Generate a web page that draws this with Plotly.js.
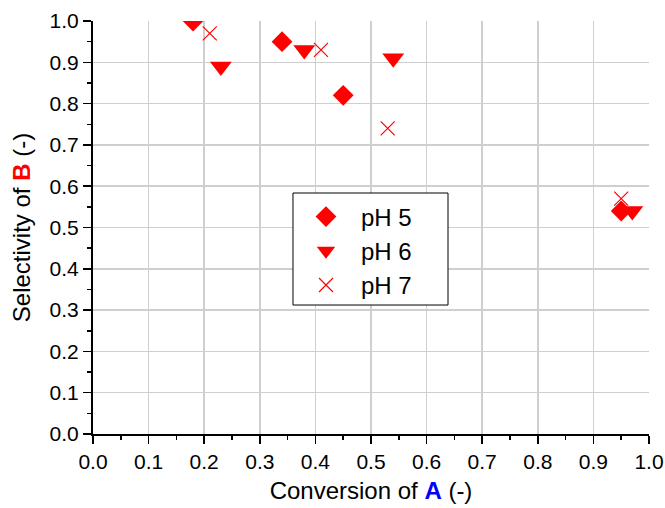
<!DOCTYPE html>
<html>
<head>
<meta charset="utf-8">
<script src="https://cdn.plot.ly/plotly-3.0.1.min.js"></script>
<style>
  html, body { margin: 0; padding: 0; background: #fff; }
  #chart { width: 665px; height: 508px; }
</style>
</head>
<body>
<div id="chart"></div>
<script>
// Selectivity of B versus conversion of A at three pH values
const seriesNames = ['pH 5', 'pH 6', 'pH 7'];

const ph5Conversion = [0.18, 0.34, 0.45, 0.95];
const ph5Selectivity = [1.00, 0.95, 0.82, 0.54];

const ph6Conversion = [0.23, 0.38, 0.54, 0.97];
const ph6Selectivity = [0.89, 0.93, 0.91, 0.54];

const ph7Conversion = [0.21, 0.41, 0.53, 0.95];
const ph7Selectivity = [0.97, 0.93, 0.74, 0.57];

const tickValues = [0, 0.1, 0.2, 0.3, 0.4, 0.5, 0.6, 0.7, 0.8, 0.9, 1.0];
const tickLabels = ['0.0', '0.1', '0.2', '0.3', '0.4', '0.5', '0.6', '0.7', '0.8', '0.9', '1.0'];

const font = 'Liberation Sans, Arial, sans-serif';

const traces = [
  {
    x: ph5Conversion, y: ph5Selectivity, name: seriesNames[0],
    mode: 'markers', type: 'scatter',
    marker: { symbol: 'diamond', size: 16, color: '#ff0000' }
  },
  {
    x: ph6Conversion, y: ph6Selectivity, name: seriesNames[1],
    mode: 'markers', type: 'scatter',
    marker: { symbol: 'triangle-down', size: 19, color: '#ff0000' }
  },
  {
    x: ph7Conversion, y: ph7Selectivity, name: seriesNames[2],
    mode: 'markers', type: 'scatter',
    marker: { symbol: 'x-thin', size: 14, color: '#ff0000',
              line: { color: '#ff0000', width: 1.2 } }
  }
];

const axisCommon = {
  range: [0, 1.0],
  tickmode: 'array',
  tickvals: tickValues,
  ticktext: tickLabels,
  ticks: 'outside',
  ticklen: 8,
  tickwidth: 1.5,
  tickcolor: '#000',
  showline: true,
  linecolor: '#000',
  linewidth: 2,
  showgrid: true,
  gridcolor: '#cfcfcf',
  gridwidth: 1.5,
  zeroline: false,
  tickfont: { family: font, size: 21, color: '#000' },
  minor: { dtick: 0.05, tick0: 0, ticks: 'outside', ticklen: 4, tickwidth: 1.5, tickcolor: '#000', showgrid: false }
};

const layout = {
  width: 665,
  height: 508,
  margin: { l: 93, r: 16, t: 21, b: 74 },
  paper_bgcolor: '#fff',
  plot_bgcolor: '#fff',
  showlegend: true,
  xaxis: Object.assign({}, axisCommon, {
    title: { text: 'Conversion of <b><span style="color:#0000ff">A</span></b> (-)',
             font: { family: font, size: 24, color: '#000' }, standoff: 10 }
  }),
  yaxis: Object.assign({}, axisCommon, {
    title: { text: 'Selectivity of <b><span style="color:#ff0000">B</span></b> (-)',
             font: { family: font, size: 24, color: '#000' }, standoff: 12 }
  }),
  // framed box behind the legend entries
  shapes: [{
    type: 'rect', xref: 'paper', yref: 'paper', layer: 'above',
    x0: 0.3597, x1: 0.6385, y0: 0.3123, y1: 0.5835,
    fillcolor: '#ffffff', line: { color: '#000', width: 1 }
  }],
  legend: {
    x: 0.3561, y: 0.58, xanchor: 'left', yanchor: 'top',
    bgcolor: 'rgba(0,0,0,0)',
    borderwidth: 0,
    font: { family: font, size: 24, color: '#000' },
    traceorder: 'normal',
    itemwidth: 60
  }
};

Plotly.newPlot('chart', traces, layout, { displayModeBar: false, staticPlot: true });
</script>
</body>
</html>
